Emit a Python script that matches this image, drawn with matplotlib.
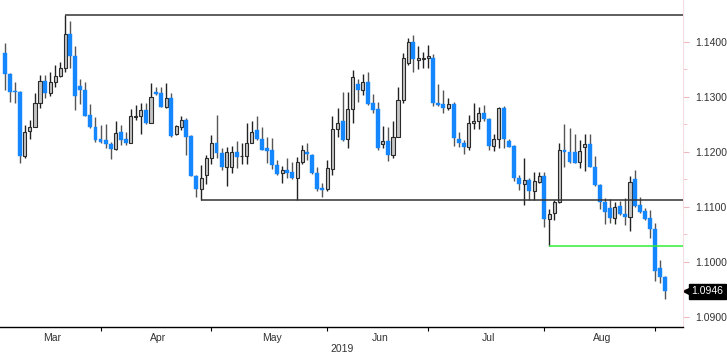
import matplotlib
matplotlib.use('Agg')
import matplotlib.pyplot as plt
import matplotlib.transforms as mtransforms

# daily candles, 4 Mar 2019 .. 3 Sep 2019
opens = [1.1379, 1.1341, 1.1310, 1.1309, 1.1193, 1.1238, 1.1245, 1.1289, 1.1329, 1.1306,
         1.1326, 1.1338, 1.1353, 1.1414, 1.1374, 1.1319, 1.1313, 1.1267, 1.1245, 1.1223,
         1.1221, 1.1214, 1.1205, 1.1235, 1.1223, 1.1216, 1.1263, 1.1264, 1.1276, 1.1253,
         1.1309, 1.1306, 1.1281, 1.1297, 1.1232, 1.1244, 1.1258, 1.1229, 1.1156, 1.1133,
         1.1158, 1.1188, 1.1216, 1.1197, 1.1173, 1.1173, 1.1200, 1.1192, 1.1193, 1.1216,
         1.1239, 1.1223, 1.1206, 1.1203, 1.1175, 1.1161, 1.1167, 1.1163, 1.1152, 1.1182,
         1.1199, 1.1194, 1.1161, 1.1134, 1.1132, 1.1168, 1.1241, 1.1255, 1.1223, 1.1277,
         1.1323, 1.1312, 1.1327, 1.1288, 1.1277, 1.1214, 1.1219, 1.1194, 1.1227, 1.1294,
         1.1361, 1.1399, 1.1367, 1.1369, 1.1370, 1.1371, 1.1289, 1.1287, 1.1279, 1.1287,
         1.1224, 1.1215, 1.1208, 1.1252, 1.1255, 1.1270, 1.1259, 1.1210, 1.1224, 1.1279,
         1.1220, 1.1210, 1.1153, 1.1141, 1.1149, 1.1129, 1.1145, 1.1156, 1.1077, 1.1088,
         1.1109, 1.1204, 1.1200, 1.1199, 1.1182, 1.1209, 1.1214, 1.1173, 1.1139, 1.1109,
         1.1097, 1.1079, 1.1101, 1.1086, 1.1082, 1.1150, 1.1103, 1.1092, 1.1080, 1.1059,
         1.0988, 1.0973]
highs = [1.1397, 1.1343, 1.1327, 1.1310, 1.1249, 1.1258, 1.1306, 1.1339, 1.1339, 1.1344,
         1.1358, 1.1363, 1.1449, 1.1438, 1.1392, 1.1332, 1.1327, 1.1287, 1.1263, 1.1249,
         1.1250, 1.1218, 1.1256, 1.1249, 1.1236, 1.1277, 1.1285, 1.1288, 1.1288, 1.1324,
         1.1318, 1.1318, 1.1324, 1.1306, 1.1249, 1.1264, 1.1261, 1.1230, 1.1157, 1.1176,
         1.1194, 1.1230, 1.1267, 1.1206, 1.1208, 1.1210, 1.1220, 1.1215, 1.1253, 1.1255,
         1.1265, 1.1244, 1.1226, 1.1225, 1.1185, 1.1174, 1.1189, 1.1182, 1.1191, 1.1212,
         1.1215, 1.1196, 1.1172, 1.1143, 1.1185, 1.1264, 1.1279, 1.1309, 1.1309, 1.1349,
         1.1332, 1.1341, 1.1344, 1.1305, 1.1291, 1.1247, 1.1244, 1.1256, 1.1318, 1.1379,
         1.1406, 1.1412, 1.1392, 1.1382, 1.1394, 1.1378, 1.1323, 1.1313, 1.1297, 1.1291,
         1.1236, 1.1221, 1.1267, 1.1288, 1.1282, 1.1285, 1.1261, 1.1233, 1.1282, 1.1283,
         1.1223, 1.1212, 1.1158, 1.1189, 1.1152, 1.1164, 1.1164, 1.1164, 1.1096, 1.1113,
         1.1215, 1.1250, 1.1243, 1.1232, 1.1222, 1.1232, 1.1232, 1.1192, 1.1141, 1.1115,
         1.1114, 1.1109, 1.1111, 1.1115, 1.1155, 1.1167, 1.1118, 1.1097, 1.1094, 1.1070,
         1.1003, 1.0974]
lows = [1.1312, 1.1291, 1.1289, 1.1180, 1.1188, 1.1224, 1.1244, 1.1280, 1.1297, 1.1302,
        1.1317, 1.1336, 1.1345, 1.1353, 1.1276, 1.1286, 1.1264, 1.1243, 1.1217, 1.1215,
        1.1206, 1.1186, 1.1203, 1.1212, 1.1212, 1.1215, 1.1258, 1.1232, 1.1250, 1.1252,
        1.1303, 1.1281, 1.1279, 1.1227, 1.1230, 1.1239, 1.1194, 1.1155, 1.1118, 1.1113,
        1.1141, 1.1178, 1.1188, 1.1167, 1.1138, 1.1162, 1.1170, 1.1178, 1.1178, 1.1215,
        1.1221, 1.1203, 1.1180, 1.1168, 1.1158, 1.1144, 1.1153, 1.1150, 1.1113, 1.1178,
        1.1185, 1.1160, 1.1129, 1.1118, 1.1129, 1.1158, 1.1227, 1.1219, 1.1206, 1.1253,
        1.1291, 1.1303, 1.1285, 1.1271, 1.1204, 1.1207, 1.1183, 1.1189, 1.1226, 1.1288,
        1.1358, 1.1345, 1.1350, 1.1352, 1.1353, 1.1283, 1.1283, 1.1270, 1.1276, 1.1210,
        1.1209, 1.1195, 1.1204, 1.1241, 1.1241, 1.1256, 1.1203, 1.1201, 1.1206, 1.1206,
        1.1208, 1.1147, 1.1130, 1.1103, 1.1113, 1.1113, 1.1144, 1.1063, 1.1029, 1.1075,
        1.1107, 1.1173, 1.1179, 1.1179, 1.1170, 1.1165, 1.1172, 1.1138, 1.1095, 1.1068,
        1.1070, 1.1068, 1.1085, 1.1067, 1.1056, 1.1100, 1.1089, 1.1076, 1.1044, 1.0965,
        1.0961, 1.0933]
closes = [1.1341, 1.1309, 1.1308, 1.1193, 1.1235, 1.1245, 1.1289, 1.1329, 1.1306, 1.1326,
          1.1338, 1.1353, 1.1414, 1.1374, 1.1302, 1.1312, 1.1265, 1.1244, 1.1221, 1.1218,
          1.1214, 1.1205, 1.1234, 1.1221, 1.1216, 1.1264, 1.1265, 1.1276, 1.1253, 1.1299,
          1.1305, 1.1282, 1.1298, 1.1229, 1.1247, 1.1258, 1.1227, 1.1156, 1.1133, 1.1152,
          1.1188, 1.1216, 1.1197, 1.1173, 1.1200, 1.1200, 1.1191, 1.1193, 1.1216, 1.1235,
          1.1223, 1.1204, 1.1202, 1.1175, 1.1159, 1.1167, 1.1162, 1.1152, 1.1182, 1.1204,
          1.1195, 1.1161, 1.1132, 1.1131, 1.1170, 1.1241, 1.1253, 1.1221, 1.1277, 1.1335,
          1.1312, 1.1327, 1.1287, 1.1276, 1.1207, 1.1219, 1.1194, 1.1227, 1.1294, 1.1370,
          1.1399, 1.1368, 1.1370, 1.1371, 1.1374, 1.1288, 1.1285, 1.1279, 1.1286, 1.1225,
          1.1215, 1.1208, 1.1252, 1.1255, 1.1271, 1.1259, 1.1210, 1.1224, 1.1279, 1.1223,
          1.1209, 1.1152, 1.1141, 1.1149, 1.1129, 1.1147, 1.1156, 1.1077, 1.1087, 1.1109,
          1.1204, 1.1199, 1.1181, 1.1180, 1.1201, 1.1214, 1.1173, 1.1139, 1.1109, 1.1091,
          1.1079, 1.1100, 1.1086, 1.1082, 1.1145, 1.1101, 1.1091, 1.1077, 1.1059, 1.0984,
          1.0972, 1.0946]

months = ['Mar', 'Apr', 'May', 'Jun', 'Jul', 'Aug']
month_last_day = [19, 41, 64, 84, 107, 129]   # index of last candle in each month
year_label = '2019'

# drawn levels: (price, first candle index, colour)
levels = [(1.1449, 12, '#333333'), (1.1113, 39, '#333333'), (1.1029, 108, '#33ee33')]

yticks = [1.09, 1.10, 1.11, 1.12, 1.13, 1.14]

blue = '#1487ff'
n = len(closes)
x = list(range(n))

fig = plt.figure(figsize=(7.27, 3.56), dpi=100)
ax = fig.add_axes([0.0, 29 / 356, 683 / 727, 327 / 356])

up_x, up_bot, up_h = [], [], []
dn_x, dn_bot, dn_h = [], [], []
for i in x:
    o, c = opens[i], closes[i]
    if c >= o:
        up_x.append(i); up_bot.append(o); up_h.append(max(c - o, 0.00003))
        ax.vlines(i, lows[i], highs[i], color='#222222', lw=1.0, zorder=1)
    else:
        dn_x.append(i); dn_bot.append(c); dn_h.append(o - c)
        ax.vlines(i, lows[i], highs[i], color='#555555', lw=1.0, zorder=1)

ax.bar(up_x, up_h, bottom=up_bot, width=0.62, color='#c4c4c4', edgecolor='#2a2a2a',
       linewidth=0.8, zorder=2)
ax.bar(dn_x, dn_h, bottom=dn_bot, width=0.78, color=blue, edgecolor=blue,
       linewidth=0.3, zorder=2)

xmin, xmax = -0.93, 134.5
for price, start, col in levels:
    ax.hlines(price, start, xmax, color=col, lw=1.1, zorder=3)

ax.set_xlim(xmin, xmax)
ax.set_ylim(1.08813, 1.14758)

# right price axis
ax.yaxis.tick_right()
ax.set_yticks(yticks)
ax.set_yticklabels(['%.4f' % t for t in yticks])
ax.set_yticks([t + 0.005 for t in yticks[:-1]], minor=True)
ax.tick_params(axis='y', which='major', length=4, color='#f2b8c2', pad=5,
               labelsize=7.5, labelcolor='#333333')
ax.tick_params(axis='y', which='minor', length=3, color='#f2b8c2')
for lab in ax.get_yticklabels():
    lab.set_family('Liberation Sans')

# month axis
ax.set_xticks(month_last_day)
ax.set_xticklabels([])
centers = []
prev = -1
for last in month_last_day:
    centers.append((prev + 1 + last) / 2)
    prev = last
ax.set_xticks(centers, minor=True)
ax.set_xticklabels(months, minor=True)
ax.tick_params(axis='x', which='major', length=3, color='black', width=0.8)
ax.tick_params(axis='x', which='minor', length=0, pad=4, labelsize=7.5,
               labelcolor='#333333')
for lab in ax.get_xticklabels(minor=True):
    lab.set_family('Liberation Sans')

ax.spines['top'].set_visible(False)
ax.spines['left'].set_visible(False)
ax.spines['right'].set_color('#f6dde2')
ax.spines['right'].set_linewidth(0.8)
ax.spines['bottom'].set_color('black')
ax.spines['bottom'].set_linewidth(1.0)

fig.text(342 / 727, 7 / 356, year_label, ha='center', va='center', fontsize=7.5,
         color='#333333', family='Liberation Sans')

# last price tag
last = closes[-1]
tr = mtransforms.blended_transform_factory(ax.transAxes, ax.transData)
ax.plot([1.0075], [last], marker='<', ms=7, color='black', transform=tr, clip_on=False)
ax.text(1.012, last, '%.4f' % last, transform=tr, color='white', fontsize=7.5,
        va='center', ha='left', family='Liberation Sans',
        bbox=dict(boxstyle='square,pad=0.25', fc='black', ec='black'), clip_on=False)

plt.savefig('out.png', dpi=100)
